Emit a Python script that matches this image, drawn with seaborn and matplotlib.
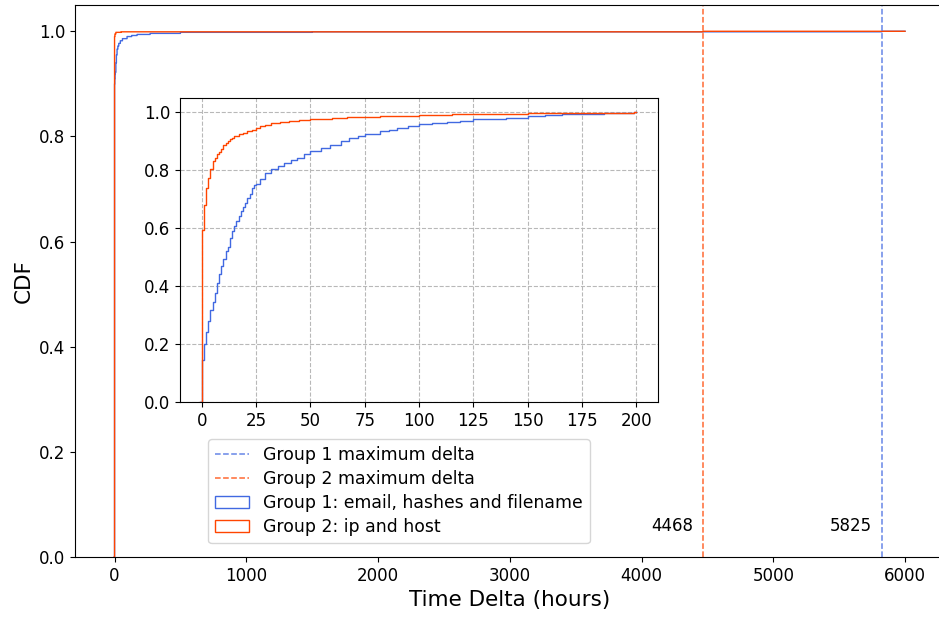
import numpy as np
import pandas as pd
import matplotlib
matplotlib.use("Agg")
import matplotlib.pyplot as plt
from matplotlib.patches import Patch
from matplotlib.lines import Line2D
import seaborn as sns

# Overview (0-6000 h): cumulative share reached at each time delta (hours)
overview_g1_hours = [0, 2, 4, 6, 10, 14, 19, 25, 32, 44, 60, 95, 130, 171, 270,
                     500, 1500, 5825]
overview_g1_cdf = [0.900, 0.910, 0.918, 0.922, 0.940, 0.955, 0.966, 0.972, 0.977,
                   0.982, 0.986, 0.990, 0.992, 0.994, 0.996, 0.998, 0.999, 1.0]
overview_g2_hours = [0, 3, 10, 50, 4468]
overview_g2_cdf = [0.990, 0.995, 0.998, 0.999, 1.0]

# Zoomed view (0-200 h): cumulative share reached at each time delta (hours)
zoom_g1_hours = [0, 1, 2, 3, 4, 5, 6, 7, 8, 9, 10, 11, 12, 13, 14, 15, 16, 17, 18,
                 19, 20, 21, 22, 23, 24, 25, 27, 29, 32, 35, 38, 41, 44, 47, 50, 55,
                 59, 64, 68, 72, 75, 82, 86, 90, 95, 100, 106, 113, 119, 125, 132,
                 140, 150, 158, 166, 175, 185, 195, 199]
zoom_g1_cdf = [0.145, 0.200, 0.243, 0.278, 0.316, 0.347, 0.378, 0.410, 0.442, 0.468,
               0.494, 0.520, 0.537, 0.566, 0.589, 0.607, 0.624, 0.644, 0.659, 0.674,
               0.687, 0.705, 0.720, 0.740, 0.748, 0.753, 0.770, 0.791, 0.803, 0.814,
               0.826, 0.835, 0.843, 0.855, 0.866, 0.878, 0.889, 0.900, 0.912, 0.920,
               0.927, 0.935, 0.940, 0.946, 0.952, 0.960, 0.964, 0.968, 0.972, 0.976,
               0.979, 0.982, 0.987, 0.990, 0.993, 0.995, 0.997, 0.998, 1.0]
zoom_g2_hours = [0, 1, 2, 3, 4, 5, 6, 7, 8, 9, 10, 11, 12, 13, 14, 15, 17, 19, 21,
                 23, 25, 27, 29, 32, 36, 40, 45, 50, 55, 60, 67, 75, 82, 88, 100,
                 115, 130, 150, 170, 190, 199]
zoom_g2_cdf = [0.595, 0.680, 0.740, 0.775, 0.806, 0.831, 0.843, 0.855, 0.863, 0.874,
               0.888, 0.896, 0.903, 0.908, 0.913, 0.918, 0.924, 0.930, 0.935, 0.941,
               0.947, 0.953, 0.958, 0.962, 0.966, 0.969, 0.973, 0.976, 0.978, 0.980,
               0.983, 0.985, 0.987, 0.989, 0.992, 0.994, 0.996, 0.997, 0.998, 0.999,
               1.0]

max_delta = {"Group 1": 5825, "Group 2": 4468}
group_labels = ["Group 1: email, hashes and filename", "Group 2: ip and host"]
colors = {"Group 1": "#4169E1", "Group 2": "#FF4500"}
inset_xticks = [0, 25, 50, 75, 100, 125, 150, 175, 200]
yticks = [0.0, 0.2, 0.4, 0.6, 0.8, 1.0]

N_EVENTS = 10000


def events_from_cdf(hours, cdf, n=N_EVENTS):
    """Expand a step CDF into individual event delays (one row per event)."""
    levels = np.round(np.asarray(cdf) * n).astype(int)
    counts = np.diff(np.r_[0, levels])
    return np.repeat(np.asarray(hours, dtype=float) + 0.5, counts)


def events_frame(series):
    return pd.concat(
        [pd.DataFrame({"delta": events_from_cdf(h, c), "group": g})
         for g, (h, c) in series.items()],
        ignore_index=True)


overview = events_frame({"Group 1": (overview_g1_hours, overview_g1_cdf),
                         "Group 2": (overview_g2_hours, overview_g2_cdf)})
zoomed = events_frame({"Group 1": (zoom_g1_hours, zoom_g1_cdf),
                       "Group 2": (zoom_g2_hours, zoom_g2_cdf)})

plt.rcParams["font.family"] = ["DejaVu Sans"]
fig = plt.figure(figsize=(9.39, 6.17), dpi=100)
ax = fig.add_axes([0.0799, 0.0972, 0.926, 0.8947])


def cdf_steps(frame, bins, target):
    for g in ["Group 1", "Group 2"]:
        sns.histplot(data=frame[frame.group == g], x="delta", bins=bins,
                     stat="proportion", cumulative=True, element="step",
                     fill=False, color=colors[g], linewidth=1.0, ax=target)


cdf_steps(overview, np.arange(-1, 6001, 1), ax)

for g in ["Group 1", "Group 2"]:
    ax.axvline(max_delta[g], color=colors[g], linestyle="--", linewidth=1.1, alpha=0.8)
for g in ["Group 2", "Group 1"]:
    ax.text(max_delta[g] - 75, 0.05, str(max_delta[g]), ha="right", va="baseline",
            fontsize=12)

ax.set_xlim(-300, 6300)
ax.set_ylim(0, 1.05)
ax.set_yticks(yticks)
ax.tick_params(labelsize=12)
ax.set_xlabel("Time Delta (hours)", fontsize=15.5)
ax.set_ylabel("CDF", fontsize=15.5)

handles = [
    Line2D([], [], color=colors["Group 1"], linestyle="--", linewidth=1.1, alpha=0.8),
    Line2D([], [], color=colors["Group 2"], linestyle="--", linewidth=1.1, alpha=0.8),
    Patch(facecolor="none", edgecolor=colors["Group 1"]),
    Patch(facecolor="none", edgecolor=colors["Group 2"]),
]
labels = ["Group 1 maximum delta", "Group 2 maximum delta"] + group_labels
ax.legend(handles, labels, loc="lower left", bbox_to_anchor=(0.153, 0.025),
          borderaxespad=0, fontsize=12.4, labelspacing=0.35)

# Inset: first 200 hours
axin = fig.add_axes([0.1917, 0.3485, 0.509, 0.4927])
cdf_steps(zoomed, np.arange(-1, 201, 1), axin)
axin.set_xlim(-10, 210)
axin.set_ylim(0, 1.05)
axin.set_xticks(inset_xticks)
axin.set_yticks(yticks)
axin.set_xlabel("")
axin.set_ylabel("")
axin.tick_params(labelsize=12)
axin.grid(True, linestyle="--", color="#b8b8b8", linewidth=0.8)

fig.savefig("out.png", dpi=100)
